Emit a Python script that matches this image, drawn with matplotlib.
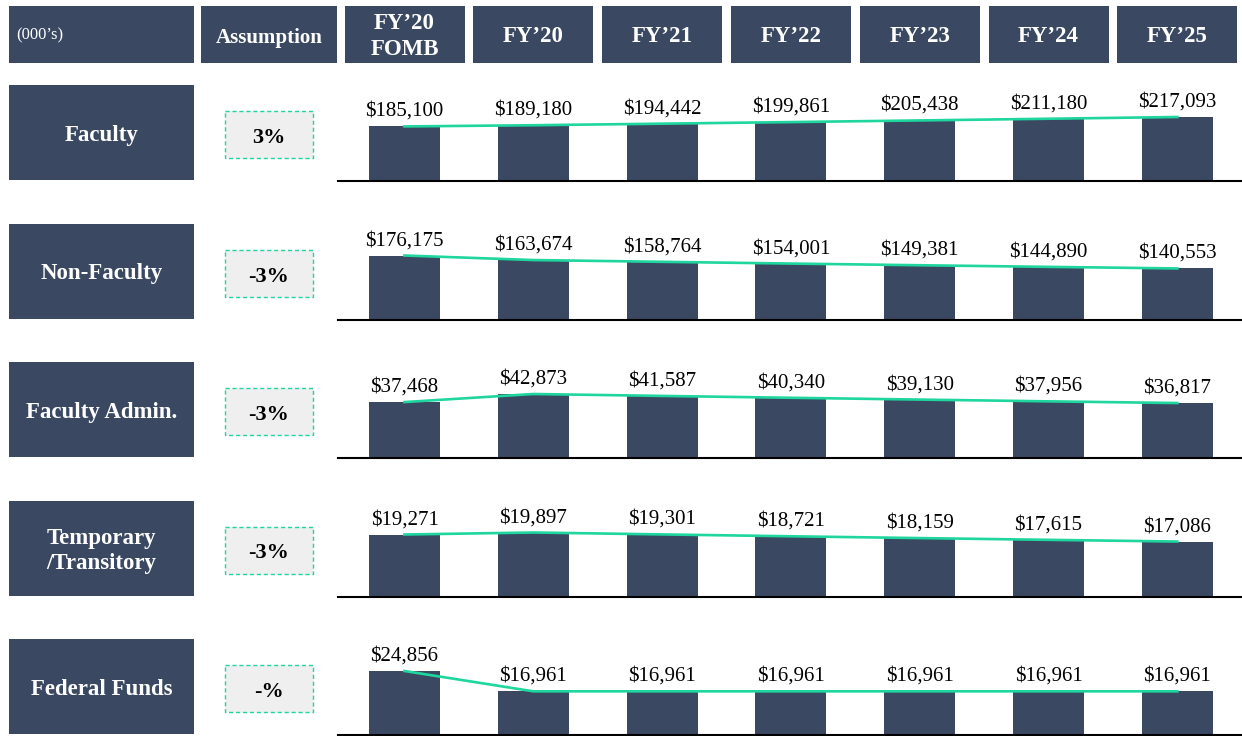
import matplotlib.pyplot as plt
from matplotlib.patches import Rectangle

plt.rcParams['font.family'] = ['Liberation Serif', 'DejaVu Serif']

years = ["FY’20\nFOMB", "FY’20", "FY’21", "FY’22", "FY’23", "FY’24", "FY’25"]
categories = ['Faculty', 'Non-Faculty', 'Faculty Admin.', 'Temporary\n/Transitory', 'Federal Funds']
assumptions = ['3%', '-3%', '-3%', '-3%', '-%']

faculty = [185100, 189180, 194442, 199861, 205438, 211180, 217093]
non_faculty = [176175, 163674, 158764, 154001, 149381, 144890, 140553]
faculty_admin = [37468, 42873, 41587, 40340, 39130, 37956, 36817]
temporary = [19271, 19897, 19301, 18721, 18159, 17615, 17086]
federal = [24856, 16961, 16961, 16961, 16961, 16961, 16961]
series = [faculty, non_faculty, faculty_admin, temporary, federal]

W, H = 1242, 736
navy = '#3a4862'
green = '#1ed69e'

fig = plt.figure(figsize=(W / 100, H / 100), dpi=100)
fig.patch.set_facecolor('white')


def rect(x0, y0, x1, y1):
    return [x0 / W, 1 - y1 / H, (x1 - x0) / W, (y1 - y0) / H]


# overlay in pixel space for the boxes
bg = fig.add_axes([0, 0, 1, 1], zorder=0)
bg.set_xlim(0, W)
bg.set_ylim(H, 0)
bg.axis('off')


def box(x0, y0, x1, y1, text, size, dy=2):
    bg.add_patch(Rectangle((x0, y0), x1 - x0, y1 - y0, facecolor=navy, edgecolor='none'))
    bg.text((x0 + x1) / 2, (y0 + y1) / 2 + dy, text, color='white', fontsize=size,
            fontweight='bold', ha='center', va='center', linespacing=1.3)


# header row
bg.add_patch(Rectangle((9, 6), 185, 57, facecolor=navy, edgecolor='none'))
bg.text(16, 35, '(000’s)', color='white', fontsize=12, ha='left', va='center')
box(201, 6, 337, 63, 'Assumption', 15, dy=3)
pitch = 128.8
for i, y in enumerate(years):
    cx = 404.5 + pitch * i
    box(cx - 60, 6, cx + 60, 63, y, 16.5, dy=2)

# rows
for r, (cat, ass, vals) in enumerate(zip(categories, assumptions, series)):
    base = 181 + 138.5 * r
    top = base - 96
    box(9, top, 194, top + 95, cat, 16.5, dy=3)
    bg.add_patch(Rectangle((225, top + 26), 88, 47, facecolor='#efefef',
                           edgecolor=green, linestyle=(0, (3, 2)), linewidth=1))
    bg.text(269, top + 53, ass, color='black', fontsize=16, fontweight='bold',
            ha='center', va='center')

    ax = fig.add_axes(rect(338, top, 1242, base), zorder=1)
    ax.patch.set_alpha(0)
    x = list(range(len(vals)))
    ax.bar(x, vals, width=0.55, color=navy, zorder=2)
    ax.plot(x, vals, color=green, linewidth=1.9, zorder=3)
    for xi, v in zip(x, vals):
        ax.annotate(f'${v:,}', (xi, v), xytext=(0, 7.5), textcoords='offset points',
                    ha='center', va='baseline', fontsize=15, color='black')
    ax.set_xlim(-(404.5 - 338) / pitch, (1242 - 404.5) / pitch)
    ax.set_ylim(0, max(vals) * 96 / 64)
    for s in ['top', 'right', 'left']:
        ax.spines[s].set_visible(False)
    ax.spines['bottom'].set_linewidth(1.5)
    ax.set_xticks([])
    ax.set_yticks([])

fig.savefig('out.png', dpi=100, facecolor='white')
